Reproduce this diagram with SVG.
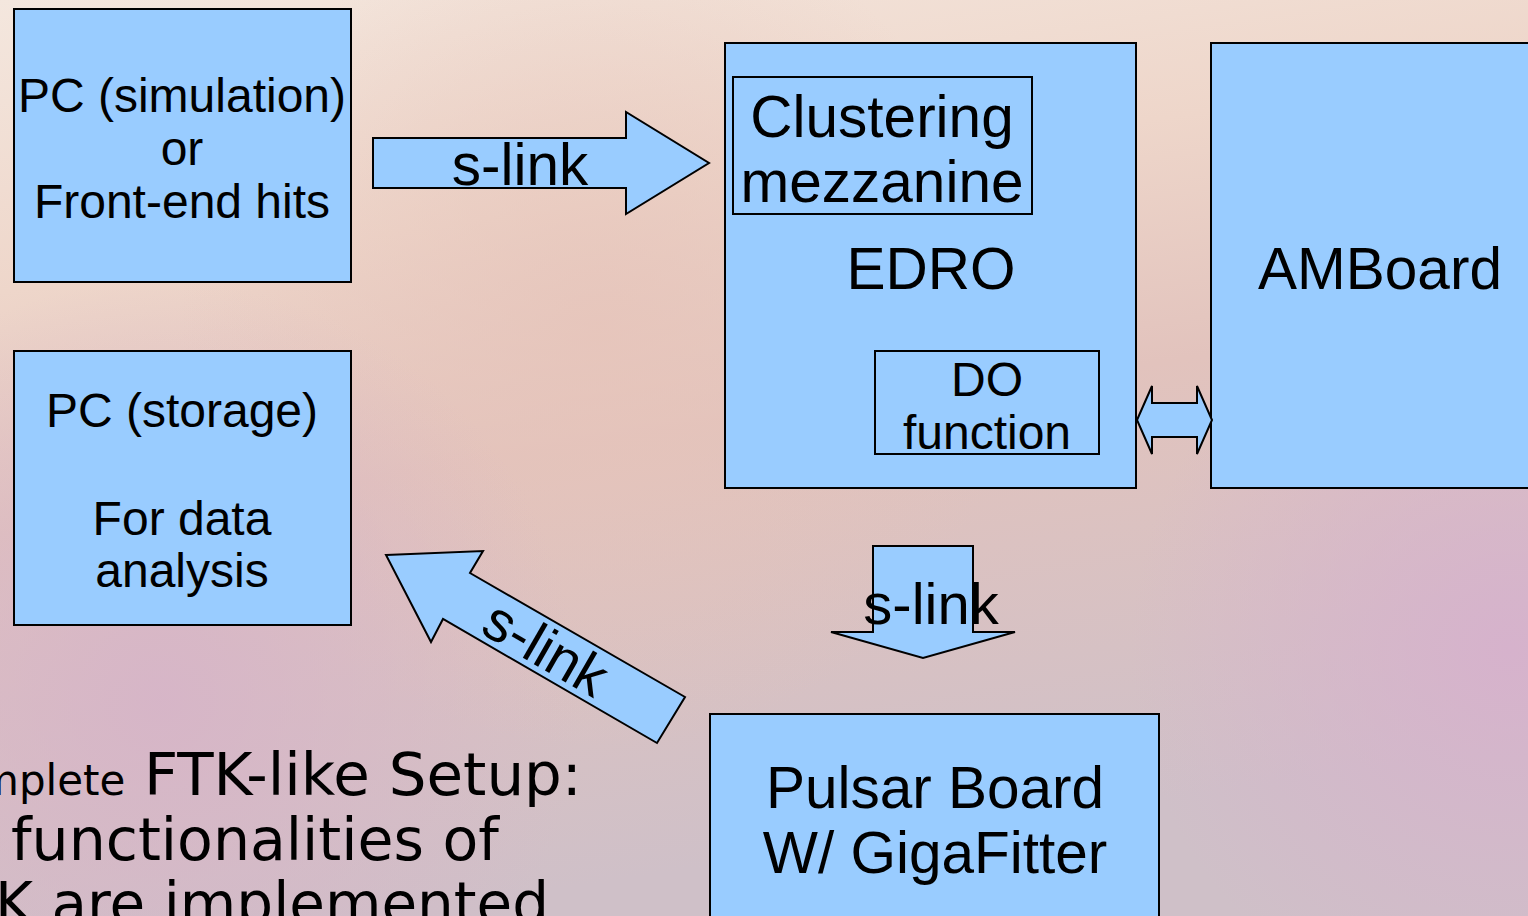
<svg xmlns="http://www.w3.org/2000/svg" width="1528" height="916" viewBox="0 0 1528 916">
<defs>
<linearGradient id="bg" x1="0" y1="0" x2="0.25" y2="1">
<stop offset="0" stop-color="#f4e7de"/>
<stop offset="0.3" stop-color="#eed6ca"/>
<stop offset="0.55" stop-color="#e2c3bd"/>
<stop offset="1" stop-color="#cfc0c8"/>
</linearGradient>
<radialGradient id="p1" cx="1510" cy="650" r="380" gradientUnits="userSpaceOnUse">
<stop offset="0" stop-color="#d6b2cc" stop-opacity="1"/>
<stop offset="1" stop-color="#d6b2cc" stop-opacity="0"/>
</radialGradient>
<radialGradient id="p2" cx="160" cy="700" r="420" gradientUnits="userSpaceOnUse">
<stop offset="0" stop-color="#d6b4c8" stop-opacity="0.9"/>
<stop offset="1" stop-color="#d6b4c8" stop-opacity="0"/>
</radialGradient>
<radialGradient id="p3" cx="600" cy="330" r="420" gradientUnits="userSpaceOnUse">
<stop offset="0" stop-color="#e6c4ba" stop-opacity="0.8"/>
<stop offset="1" stop-color="#e6c4ba" stop-opacity="0"/>
</radialGradient>
</defs>
<style>
.box{fill:#99ccff;stroke:#000;stroke-width:2}
.inner{fill:none;stroke:#000;stroke-width:2}
.arr{fill:#99ccff;stroke:#000;stroke-width:2;stroke-linejoin:miter}
.t{font-family:"Liberation Sans",Arial,sans-serif;fill:#000;text-anchor:middle}
.t47{font-size:48px}
.t57{font-size:58.5px}
.d{font-family:"DejaVu Sans",Verdana,sans-serif;fill:#000}
</style>
<rect x="0" y="0" width="1528" height="916" fill="url(#bg)"/>
<rect x="0" y="0" width="1528" height="916" fill="url(#p3)"/>
<rect x="0" y="0" width="1528" height="916" fill="url(#p2)"/>
<rect x="0" y="0" width="1528" height="916" fill="url(#p1)"/>

<g id="pc-sim">
<rect class="box" x="14" y="9" width="337" height="273"/>
<text class="t t47" x="182" y="112">PC (simulation)</text>
<text class="t t47" x="182" y="165">or</text>
<text class="t t47" x="182" y="218">Front-end hits</text>
</g>

<g id="pc-storage">
<rect class="box" x="14" y="351" width="337" height="274"/>
<text class="t t47" x="182" y="427">PC (storage)</text>
<text class="t t47" x="182" y="535">For data</text>
<text class="t t47" x="182" y="587">analysis</text>
</g>

<g id="edro">
<rect class="box" x="725" y="43" width="411" height="445"/>
<text class="t t57" x="931" y="289">EDRO</text>
</g>

<g id="clustering">
<rect class="inner" x="733" y="77" width="299" height="137"/>
<text class="t t57" x="882" y="137">Clustering</text>
<text class="t t57" x="882" y="202">mezzanine</text>
</g>

<g id="do-function">
<rect class="inner" x="875" y="351" width="224" height="103"/>
<text class="t t47" x="987" y="396">DO</text>
<text class="t t47" x="987" y="449">function</text>
</g>

<g id="amboard">
<rect class="box" x="1211" y="43" width="330" height="445"/>
<text class="t t57" x="1380" y="289">AMBoard</text>
</g>

<g id="pulsar">
<rect class="box" x="710" y="714" width="449" height="220"/>
<text class="t t57" x="935" y="808">Pulsar Board</text>
<text class="t t57" x="935" y="873">W/ GigaFitter</text>
</g>

<g id="connectors">
<g id="arrow-pc-edro">
<polygon class="arr" points="373,138 626,138 626,112 709,163 626,214 626,188 373,188"/>
<text class="t" font-size="58.5" x="520" y="185">s-link</text>
</g>
<g id="arrow-edro-amboard">
<polygon class="arr" points="1137,420 1152,386 1152,403 1197,403 1197,386 1212,420 1197,454 1197,437 1152,437 1152,454"/>
</g>
<g id="arrow-edro-pulsar">
<polygon class="arr" points="873,546 973,546 973,632 1015,632 923,658 831,632 873,632"/>
<text class="t" font-size="58" x="931" y="624">s-link</text>
</g>
<g id="arrow-pulsar-pc">
<polygon class="arr" points="386,555 483,551 470,573 685,697 657,743 443,619 431,642"/>
<text class="t" font-size="57" transform="translate(546,648) rotate(30)" x="0" y="20">s-link</text>
</g>
</g>

<g id="caption">
<text class="d" font-size="42" x="-22" y="795">mplete</text>
<text class="d" font-size="59.5" x="144" y="795">FTK-like Setup:</text>
<text class="d" font-size="58.5" x="11" y="860">functionalities of</text>
<text class="d" font-size="58" x="-5" y="924">K are implemented</text>
</g>
</svg>
